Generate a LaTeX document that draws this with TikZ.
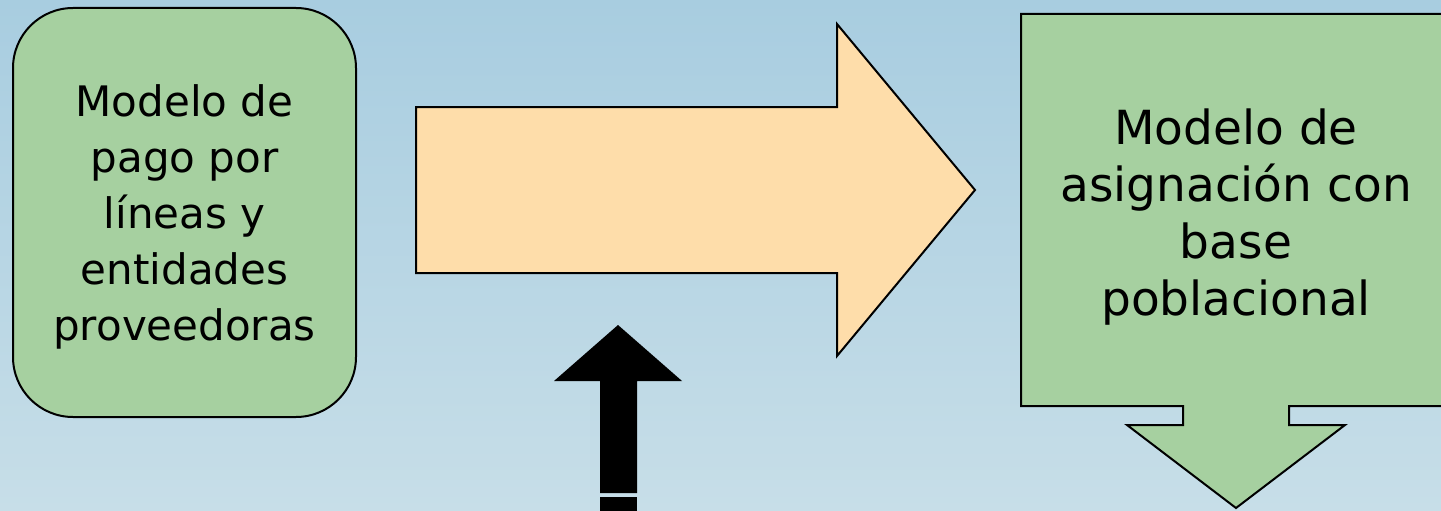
\documentclass[tikz,border=0pt]{standalone}
\usepackage{fontspec}
\setmainfont{DejaVu Sans}
\usetikzlibrary{positioning}
\definecolor{bgtop}{RGB}{168,205,224}
\definecolor{bgbot}{RGB}{199,222,232}
\definecolor{boxgreen}{RGB}{166,208,160}
\definecolor{arroworange}{RGB}{254,221,170}

\begin{document}
\begin{tikzpicture}[x=1pt,y=-1pt,line join=miter,
  greenbox/.style={draw,fill=boxgreen,line width=2pt,rounded corners=60pt,
                   minimum width=343pt,minimum height=409pt,inner sep=0pt},
  smalltext/.style={align=center,inner sep=0pt,font=\fontsize{42}{56}\selectfont},
  bigtext/.style={align=center,inner sep=0pt,font=\fontsize{47}{57}\selectfont},
  outline/.style={draw,line width=2pt}]
% background
\shade[top color=bgtop,bottom color=bgbot] (0,0) rectangle (1441,511);
\useasboundingbox (0,0) rectangle (1441,511);
% left box
\node[greenbox] (pago) at (184.5,212.5) {};
\node[smalltext] (pagotxt) at (184.5,217)
  {Modelo de\\ pago por\\ líneas y\\ entidades\\ proveedoras};
% middle arrow
\draw[outline,fill=arroworange] (416,107) -- (837,107) -- (837,24) -- (975,190)
  -- (837,356) -- (837,273) -- (416,273) -- cycle;
% black up arrow
\fill[black] (618,325) -- (682,381) -- (637,381) -- (637,493) -- (600,493)
  -- (600,381) -- (554,381) -- cycle;
\fill[black] (600,497) rectangle (637,512);
% right callout
\draw[outline,fill=boxgreen] (1021,14) -- (1445,14) -- (1445,406) -- (1289,406)
  -- (1289,425) -- (1345,425) -- (1236,508) -- (1127,425) -- (1183,425)
  -- (1183,406) -- (1021,406) -- cycle;
\node[bigtext] (asig) at (1236,217)
  {Modelo de\\ asignación con\\ base\\ poblacional};
\end{tikzpicture}
\end{document}
